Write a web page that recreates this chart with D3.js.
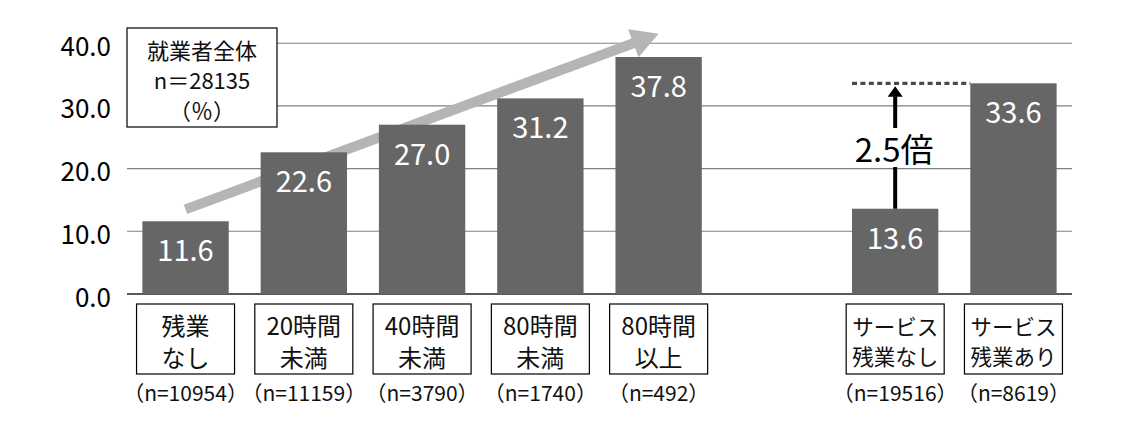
<!DOCTYPE html>
<html><head><meta charset="utf-8">
<script src="https://cdn.jsdelivr.net/npm/d3@7"></script>
<style>
body{margin:0;background:#fff}
text{font-family:"Noto Sans CJK JP","Noto Sans",sans-serif}
</style>
</head><body>
<svg id="c" width="1144" height="438"></svg>
<script>
// ---- data ----
const categories = ["残業なし","20時間未満","40時間未満","80時間未満","80時間以上","サービス残業なし","サービス残業あり"];
const categoryLines = [["残業","なし"],["20時間","未満"],["40時間","未満"],["80時間","未満"],["80時間","以上"],["サービス","残業なし"],["サービス","残業あり"]];
const values = [11.6,22.6,27.0,31.2,37.8,13.6,33.6];
const sampleSizes = ["（n=10954）","（n=11159）","（n=3790）","（n=1740）","（n=492）","（n=19516）","（n=8619）"];
const yTicks = [0,10,20,30,40];
const legendLines = ["就業者全体","n＝28135","（％）"];
const trendFrom = {cat:"残業なし", value:13.5};
const trendTo = {cat:"80時間以上", value:41.5};

// ---- scales ----
const slots = [...categories.slice(0,5), "__gap", ...categories.slice(5)];
const x = d3.scaleBand().domain(slots).range([127,1072]).paddingInner(0.27).paddingOuter(0.13);
const y = d3.scaleLinear().domain([0,40]).range([294,43.2]);
const bw = x.bandwidth();
const cx = c => x(c) + bw/2;

const svg = d3.select("#c");
svg.append("rect").attr("width",1144).attr("height",438).attr("fill","#fff");

// gridlines
svg.append("g").selectAll("line").data(yTicks).join("line")
  .attr("x1",127).attr("x2",1072)
  .attr("y1",d=>y(d)).attr("y2",d=>y(d))
  .attr("stroke",d=>d===0?"#222":"#808080")
  .attr("stroke-width",d=>d===0?1.6:1.1);

// y tick labels
svg.append("g").selectAll("text").data(yTicks).join("text")
  .attr("x",111).attr("y",d=>y(d)+1)
  .attr("text-anchor","end").attr("dominant-baseline","central")
  .attr("font-size",26).attr("fill","#000")
  .text(d=>d.toFixed(1));

// trend arrow (behind bars)
(function(){
  const p0=[cx(trendFrom.cat), y(trendFrom.value)];
  const p1=[cx(trendTo.cat), y(trendTo.value)];
  const dx=p1[0]-p0[0], dy=p1[1]-p0[1], L=Math.hypot(dx,dy);
  const u=[dx/L,dy/L], n=[-u[1],u[0]];
  const w=5, H=15, HL=27;
  const b=[p1[0]-u[0]*HL, p1[1]-u[1]*HL];
  const pts=[
    [p0[0]+n[0]*w,p0[1]+n[1]*w],
    [b[0]+n[0]*w,b[1]+n[1]*w],
    [b[0]+n[0]*H,b[1]+n[1]*H],
    p1,
    [b[0]-n[0]*H,b[1]-n[1]*H],
    [b[0]-n[0]*w,b[1]-n[1]*w],
    [p0[0]-n[0]*w,p0[1]-n[1]*w]
  ];
  svg.append("path").attr("d","M"+pts.map(p=>p.join(",")).join("L")+"Z").attr("fill","#b5b5b5");
})();

// bars
svg.append("g").selectAll("rect").data(categories).join("rect")
  .attr("x",d=>x(d)).attr("width",bw)
  .attr("y",(d,i)=>y(values[i])).attr("height",(d,i)=>y(0)-y(values[i]))
  .attr("fill","#666666");

// value labels
svg.append("g").selectAll("text").data(categories).join("text")
  .attr("x",d=>cx(d)).attr("y",(d,i)=>y(values[i])+27)
  .attr("text-anchor","middle").attr("dominant-baseline","central")
  .attr("font-size",29).attr("fill","#fff")
  .text((d,i)=>values[i].toFixed(1));

// legend box
svg.append("rect").attr("x",127).attr("y",28).attr("width",150).attr("height",99)
  .attr("fill","#fff").attr("stroke","#000").attr("stroke-width",1.2);
const lt = svg.append("text").attr("x",202).attr("y",48.5)
  .attr("text-anchor","middle").attr("dominant-baseline","central")
  .attr("font-size",22).attr("fill","#111");
lt.selectAll("tspan").data(legendLines).join("tspan")
  .attr("x",202).attr("dy",(d,i)=>i===0?0:30).text(d=>d);

// category boxes
const em = s => Array.from(s).reduce((a,ch)=>a+(ch.charCodeAt(0)>0x2E80?1:0.55),0);
const cg = svg.append("g").selectAll("g").data(categories).join("g");
cg.append("rect").attr("x",d=>cx(d)-49).attr("y",304).attr("width",98).attr("height",70)
  .attr("fill","#fff").attr("stroke","#000").attr("stroke-width",1.2);
cg.each(function(d,i){
  const lines = categoryLines[i];
  const fs = Math.min(24, 86/Math.max(...lines.map(em)));
  const gap = fs*1.36;
  const mid = 340;
  const t = d3.select(this).append("text")
    .attr("x",cx(d)).attr("y",mid-gap/2)
    .attr("text-anchor","middle").attr("dominant-baseline","central")
    .attr("font-size",fs).attr("fill","#111");
  t.selectAll("tspan").data(lines).join("tspan")
    .attr("x",cx(d)).attr("dy",(s,j)=>j===0?0:gap).text(s=>s);
});
cg.append("text").attr("x",d=>cx(d)).attr("y",392)
  .attr("text-anchor","middle").attr("dominant-baseline","central")
  .attr("font-size",21).attr("fill","#111")
  .text((d,i)=>sampleSizes[i]);

// comparison annotation
(function(){
  const a=categories[5], b=categories[6];
  const va=values[5], vb=values[6];
  const ax=cx(a);
  svg.append("line").attr("x1",x(a)).attr("x2",x(b)).attr("y1",y(vb)).attr("y2",y(vb))
    .attr("stroke","#4a4a4a").attr("stroke-width",3.2).attr("stroke-dasharray","5,3.4");
  const tip=y(vb)+3, base=tip+10;
  const ly=y((va+vb)/2)+2;
  svg.append("line").attr("x1",ax).attr("x2",ax).attr("y1",y(va)).attr("y2",ly+19)
    .attr("stroke","#000").attr("stroke-width",4);
  svg.append("line").attr("x1",ax).attr("x2",ax).attr("y1",ly-20).attr("y2",base)
    .attr("stroke","#000").attr("stroke-width",4);
  svg.append("path").attr("d",`M${ax},${tip}L${ax+7.5},${base+0.5}L${ax-7.5},${base+0.5}Z`).attr("fill","#000");
  svg.append("text").attr("x",ax-1).attr("y",ly)
    .attr("text-anchor","middle").attr("dominant-baseline","central")
    .attr("font-size",33).attr("fill","#000")
    .text((vb/va).toFixed(1)+"倍");
})();
</script>
</body></html>
